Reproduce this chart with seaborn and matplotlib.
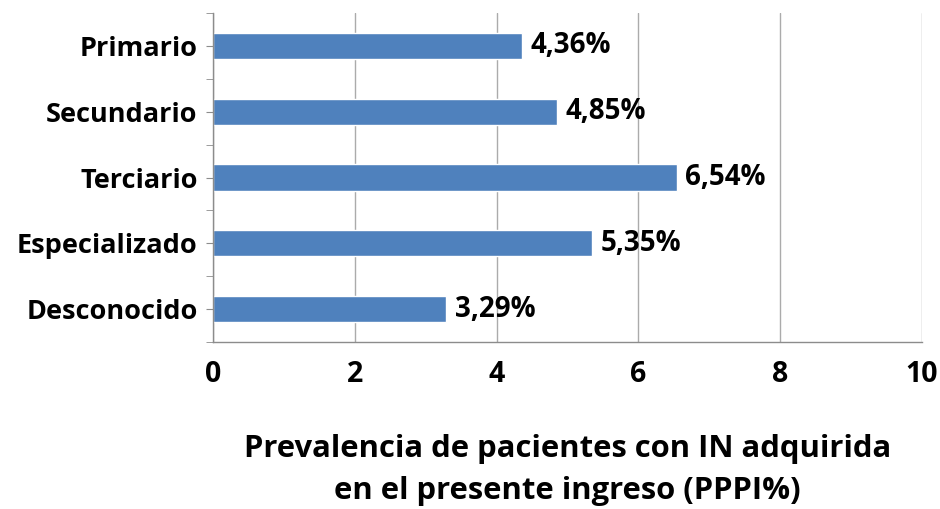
import numpy as np
import pandas as pd
import seaborn as sns
import matplotlib.pyplot as plt
from matplotlib.ticker import FixedLocator

# data
categories = ["Primario", "Secundario", "Terciario", "Especializado", "Desconocido"]
values = [4.36, 4.85, 6.54, 5.35, 3.29]
x_ticks = [0, 2, 4, 6, 8, 10]

df = pd.DataFrame({"nivel": categories, "pppi": values})

sns.set_style("white", {"text.color": "black", "xtick.color": "black",
                        "ytick.color": "black", "axes.labelcolor": "black"})
plt.rcParams['font.family'] = ['Open Sans', 'DejaVu Sans']
plt.rcParams['font.weight'] = 'bold'

fig = plt.figure(figsize=(9.4, 5.09), dpi=100)
ax = fig.add_axes([0.2266, 0.328, 0.7543, 0.6465])

sns.barplot(data=df, y="nivel", x="pppi", orient="h", color="#4F81BD",
            saturation=1, width=0.4, ax=ax)

ax.set_xlim(0, 10)
ax.set_ylim(4.5, -0.5)
ax.set_xticks(x_ticks)
ax.set_xticklabels([str(t) for t in x_ticks], fontsize=20.5, fontweight="bold")
ax.set_yticklabels(categories, fontsize=19.5, fontweight="bold")
ax.yaxis.set_minor_locator(FixedLocator(np.arange(-0.5, 5, 1)))

ax.grid(axis="x", color="#ABABAB", linewidth=1)
ax.set_axisbelow(True)
for s in ["top", "right"]:
    ax.spines[s].set_visible(False)
for s in ["left", "bottom"]:
    ax.spines[s].set_color("#8C8C8C")
    ax.spines[s].set_linewidth(1)

ax.tick_params(axis="y", which="both", length=5, color="#8C8C8C", labelcolor="black",
               pad=6, left=True)
ax.tick_params(axis="x", length=0, pad=13, labelcolor="black")

# value labels
for i, v in enumerate(values):
    ax.text(v + 0.12, i, f"{v:.2f}%".replace(".", ","), va="center", ha="left",
            fontsize=20, fontweight="bold", color="black")

ax.set_ylabel("")
ax.set_xlabel("Prevalencia de pacientes con IN adquirida\nen el presente ingreso (PPPI%)",
              fontsize=22.3, fontweight="bold", labelpad=32, linespacing=1.55,
              color="black")

fig.savefig("out.png", dpi=100)
